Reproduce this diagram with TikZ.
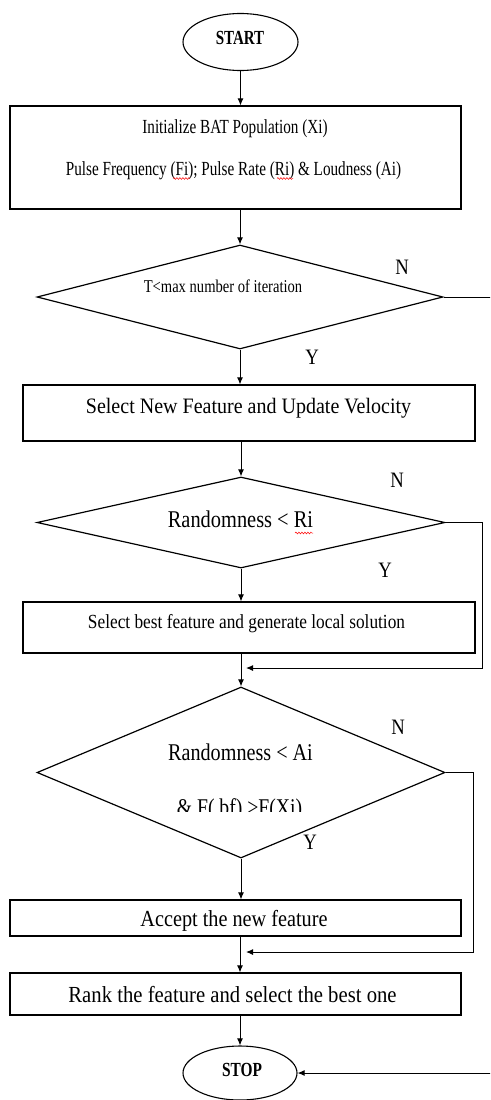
\documentclass[tikz,border=0pt]{standalone}
\usepackage{fontspec}
\usepackage{graphicx}
\setmainfont{Liberation Serif}
\usetikzlibrary{arrows.meta,shapes.geometric,decorations.pathmorphing}
\newcommand{\sqtxt}[3]{\scalebox{#2}[1]{\fontsize{#1}{#1}\selectfont #3}}
\begin{document}
\begin{tikzpicture}[x=1pt,y=-1pt,
  shapebox/.style={draw, line width=1.1pt, inner sep=0pt},
  term/.style={draw, ellipse, line width=1.1pt, inner sep=0pt, minimum width=115pt, minimum height=57pt},
  decide/.style={draw, diamond, line width=1.2pt, inner sep=0pt},
  arr/.style={-{Latex[length=7pt,width=6pt]}, line width=1pt},
  txt/.style={inner sep=0pt, anchor=base},
  yn/.style={inner sep=0pt},
  squig/.style={red, line width=0.5pt, decorate, decoration={snake, segment length=3pt, amplitude=0.9pt}}
]
\useasboundingbox (0,0) rectangle (490,1100);
\clip (0,0) rectangle (490,1100);
\fill[white] (0,0) rectangle (490,1100);

% shapes
\node[term] (start) at (240.5,42) {};
\node[shapebox, minimum width=451pt, minimum height=103pt] (init) at (235.5,157.5) {};
\node[decide, minimum width=406pt, minimum height=104pt] (d1) at (240,297) {};
\node[shapebox, minimum width=452pt, minimum height=56pt] (box2) at (249,413) {};
\node[decide, minimum width=408pt, minimum height=91pt] (d2) at (241,522.5) {};
\node[shapebox, minimum width=452pt, minimum height=51pt] (box3) at (249,627.5) {};
\node[decide, minimum width=408pt, minimum height=171pt] (d3) at (241,772.5) {};
\node[shapebox, minimum width=451pt, minimum height=36pt] (box4) at (235.5,918) {};
\node[shapebox, minimum width=451pt, minimum height=42pt] (box5) at (235.5,994) {};
\node[term, minimum width=114pt, minimum height=54pt] (stop) at (240,1073) {};

% texts
\node[txt] (tstart) at (240,44) {\sqtxt{20}{0.75}{\bfseries START}};
\node[txt] (tinit1) at (235,133) {\sqtxt{20}{0.76}{Initialize BAT Population (Xi)}};
\node[txt] (tinit2) at (233.5,175) {\sqtxt{20}{0.76}{Pulse Frequency (Fi); Pulse Rate (Ri) \& Loudness (Ai)}};
\node[txt] (td1) at (223,292) {\sqtxt{18}{0.81}{T<max number of iteration}};
\node[txt] (tbox2) at (248.5,413) {\sqtxt{22}{0.91}{Select New Feature and Update Velocity}};
\node[txt] (td2) at (240.5,527) {\sqtxt{24}{0.85}{Randomness < Ri}};
\node[txt] (tbox3) at (246.5,628) {\sqtxt{20}{0.865}{Select best feature and generate local solution}};
\node[txt] (td3a) at (240.5,760) {\sqtxt{24}{0.84}{Randomness < Ai}};
\begin{scope}
\clip (100,790) rectangle (380,811);
\node[txt] (td3b) at (239.5,815) {\sqtxt{24}{0.82}{\& F( bf) >F(Xi)}};
\end{scope}
\node[txt] (tbox4) at (234,926) {\sqtxt{23}{0.88}{Accept the new feature}};
\node[txt] (tbox5) at (232.5,1002) {\sqtxt{23}{0.90}{Rank the feature and select the best one}};
\node[txt] (tstop) at (242,1076) {\sqtxt{20}{0.77}{\bfseries STOP}};

% Y / N labels
\node[yn] (n1) at (402,267) {\sqtxt{22}{0.85}{N}};
\node[yn] (y1) at (312,357) {\sqtxt{22}{0.85}{Y}};
\node[yn] (n2) at (397,480) {\sqtxt{22}{0.85}{N}};
\node[yn] (y2) at (385,570) {\sqtxt{22}{0.85}{Y}};
\node[yn] (n3) at (398,727) {\sqtxt{22}{0.85}{N}};
\node[yn] (y3) at (310,842) {\sqtxt{22}{0.85}{Y}};

% spell-check squiggles
\draw[squig] (173,178.5) -- (190,178.5);
\draw[squig] (277,178.5) -- (293,178.5);
\draw[squig] (295,533) -- (313,533);

% main flow
\draw[arr] (start.south) -- (start.south |- init.north);
\draw[arr] (d1.north |- init.south) -- (d1.north);
\draw[arr] (d1.south) -- (d1.south |- box2.north);
\draw[arr] (d2.north |- box2.south) -- (d2.north);
\draw[arr] (d2.south) -- (d2.south |- box3.north);
\draw[arr] (d3.north |- box3.south) -- (d3.north);
\draw[arr] (d3.south) -- (d3.south |- box4.north);
\draw[arr] (stop.north |- box4.south) -- (stop.north |- box5.north);
\draw[arr] (stop.north |- box5.south) -- (stop.north);

% N branches
\coordinate (j2) at (246,668);
\coordinate (j3) at (246,952);
\draw[arr] (d1.east) -- ++(60,0) |- (stop.east);
\draw[arr] (d2.east) -- ++(37,0) |- (j2);
\draw[arr] (d3.east) -- ++(28,0) |- (j3);
\end{tikzpicture}
\end{document}
